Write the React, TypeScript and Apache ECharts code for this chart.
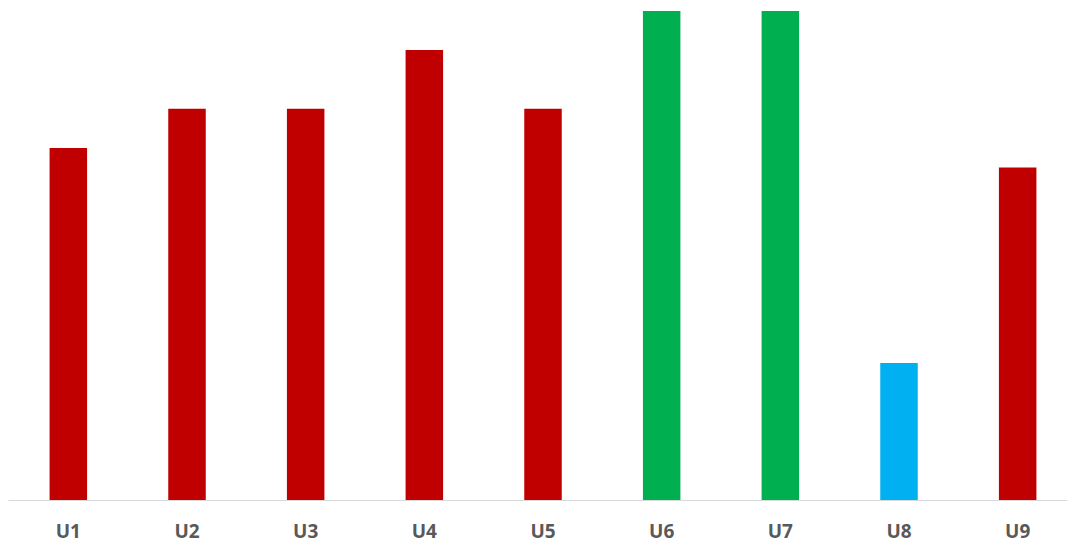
import React, { useEffect, useRef } from "react";
import * as echarts from "echarts";

const categories = ["U1", "U2", "U3", "U4", "U5", "U6", "U7", "U8", "U9"];
const values = [18, 20, 20, 23, 20, 25, 25, 7, 17];
const barColors = ["#C00000", "#C00000", "#C00000", "#C00000", "#C00000", "#00B050", "#00B050", "#00B0F0", "#C00000"];

export default function App() {
  const ref = useRef<HTMLDivElement>(null);

  useEffect(() => {
    if (!ref.current) return;
    const chart = echarts.init(ref.current, null, { renderer: "svg" });
    chart.setOption({
      animation: false,
      grid: { left: 9, right: 11, top: 11, bottom: 42, containLabel: false },
      xAxis: {
        type: "category",
        data: categories,
        axisLine: { lineStyle: { color: "#D9D9D9", width: 1 } },
        axisTick: { show: false },
        axisLabel: {
          color: "#595959",
          fontFamily: "Open Sans",
          fontWeight: "bold",
          fontSize: 19,
          margin: 21,
        },
      },
      yAxis: {
        type: "value",
        min: 0,
        max: 25,
        show: false,
        splitLine: { show: false },
      },
      series: [
        {
          type: "bar",
          barWidth: 37.5,
          data: values.map((v, i) => ({ value: v, itemStyle: { color: barColors[i] } })),
        },
      ],
    });
    return () => chart.dispose();
  }, []);

  return (
    <div style={{ position: "fixed", left: 0, top: 0, width: 1067, height: 542, overflow: "hidden", background: "#fff" }}>
      <div ref={ref} style={{ width: 1088, height: 542 }} />
    </div>
  );
}
